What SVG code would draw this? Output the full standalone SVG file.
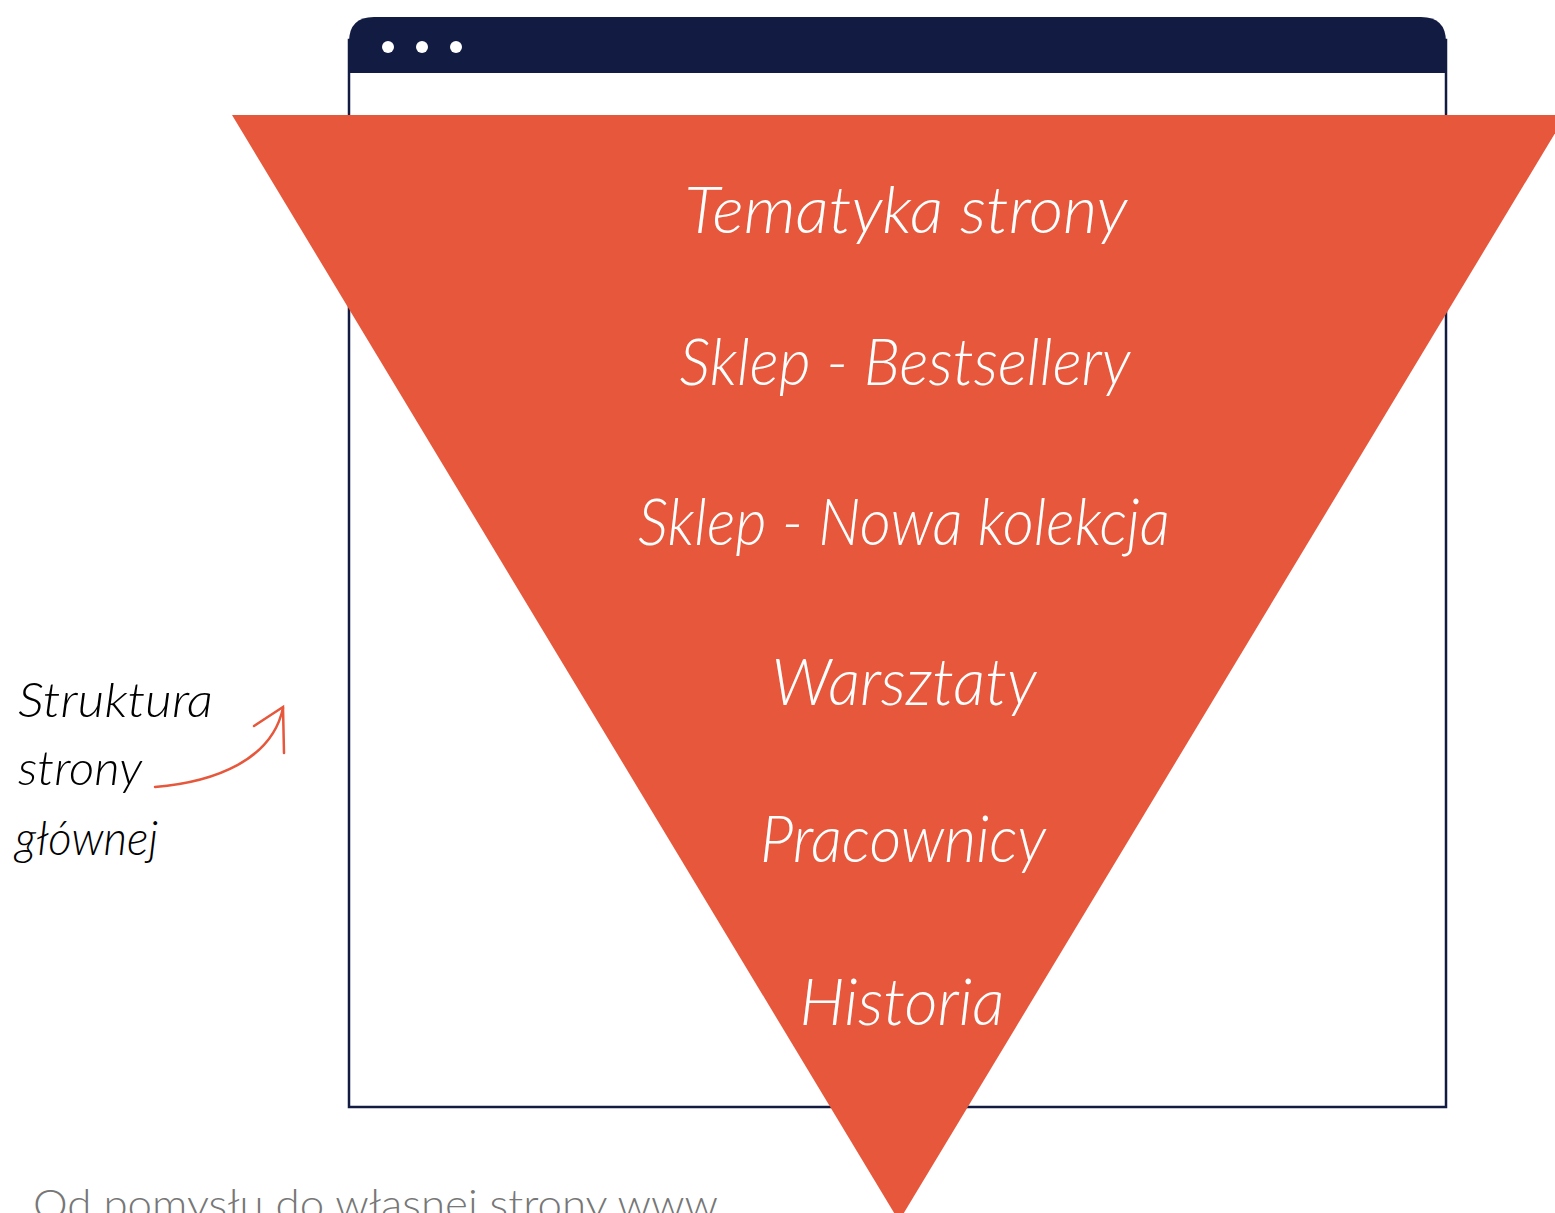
<svg xmlns="http://www.w3.org/2000/svg" width="1555" height="1213" viewBox="0 0 1555 1213">
<style>
.hand{font-family:"Lato","Liberation Sans",sans-serif;font-style:italic;font-weight:300;}
.tri{fill:#ffffff;font-size:66px;text-anchor:middle;}
.lbl{fill:#000000;font-size:48px;}
.foot{font-family:"Lato","Liberation Sans",sans-serif;font-weight:300;fill:#777777;font-size:42px;}
</style>
<rect width="1555" height="1213" fill="#ffffff"/>
<g id="browser">
<rect x="349" y="40" width="1097" height="1067" fill="#ffffff" stroke="#121b42" stroke-width="2.5"/>
<path d="M349,73 V42 Q349,17 374,17 H1421 Q1446,17 1446,42 V73 Z" fill="#121b42"/>
<circle cx="388" cy="47" r="6" fill="#ffffff"/>
<circle cx="422" cy="47" r="6" fill="#ffffff"/>
<circle cx="456" cy="47" r="6" fill="#ffffff"/>
</g>
<g id="funnel">
<polygon points="232,115 1566,115 899,1221" fill="#e6573b"/>
<text class="hand tri" x="906" y="233" textLength="443" lengthAdjust="spacingAndGlyphs">Tematyka strony</text>
<text class="hand tri" x="905" y="385" textLength="451" lengthAdjust="spacingAndGlyphs">Sklep - Bestsellery</text>
<text class="hand tri" x="904" y="545" textLength="532" lengthAdjust="spacingAndGlyphs">Sklep - Nowa kolekcja</text>
<text class="hand tri" x="904" y="705" textLength="265" lengthAdjust="spacingAndGlyphs">Warsztaty</text>
<text class="hand tri" x="903" y="862" textLength="286" lengthAdjust="spacingAndGlyphs">Pracownicy</text>
<text class="hand tri" x="902" y="1025" textLength="205" lengthAdjust="spacingAndGlyphs">Historia</text>
</g>
<g id="label">
<text class="hand lbl" x="18" y="717" textLength="195" lengthAdjust="spacingAndGlyphs">Struktura</text>
<text class="hand lbl" x="18" y="785" textLength="124" lengthAdjust="spacingAndGlyphs">strony</text>
<text class="hand lbl" x="15" y="855" textLength="143" lengthAdjust="spacingAndGlyphs">głównej</text>
</g>
<g id="connectors" fill="none" stroke="#e6573b" stroke-width="2.5" stroke-linecap="round">
<path d="M155,787 C215,782 272,760 283,708"/>
<path d="M254,726 L283,707 L284,753"/>
</g>
<text class="foot" x="33" y="1219" textLength="685" lengthAdjust="spacingAndGlyphs">Od pomysłu do własnej strony www</text>
</svg>
